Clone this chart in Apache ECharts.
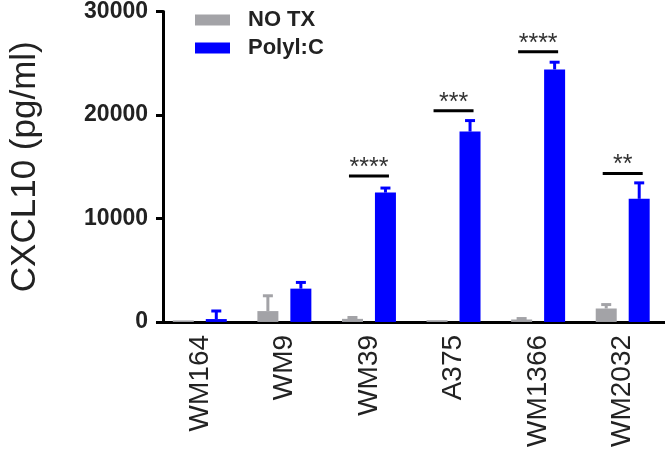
<!DOCTYPE html>
<html>
<head>
<meta charset="utf-8">
<script src="https://cdn.jsdelivr.net/npm/echarts@6/dist/echarts.min.js"></script>
<style>
  html, body { margin: 0; padding: 0; background: #fff; }
  #chart { width: 665px; height: 450px; }
</style>
</head>
<body>
<div id="chart"></div>
<script>
// cell lines
const categories = ['WM164', 'WM9', 'WM39', 'A375', 'WM1366', 'WM2032']
// NO TX: mean and SD (upper bar only)
const noTx = [150, 1050, 300, 170, 240, 1300]
const noTxErr = [0, 1480, 130, 0, 90, 380]
// PolyI:C
const polyIC = [280, 3220, 12500, 18400, 24400, 11900]
const polyICErr = [780, 600, 440, 1060, 700, 1540]
// significance brackets
const sigCats = ['WM39', 'A375', 'WM1366', 'WM2032']
const sigY = [14100, 20400, 26100, 14350]
const sigText = ['****', '***', '****', '**']
const yTicks = [0, 10000, 20000, 30000]

const FONT = 'Liberation Sans, Arial, sans-serif'
const GRAY = '#a3a3a7'
const BLUE = '#0000ff'

// build error bar data for custom series
const errData = (vals, errs) => vals.map((v, i) => [i, v, errs[i]])

const errorBarSeries = (name, vals, errs, color, dx) => ({
  name: name,
  type: 'custom',
  z: 1,
  encode: { x: 0, y: 1 },
  data: errData(vals, errs),
  renderItem (params, api) {
    const err = api.value(2)
    if (!err) return null
    const base = api.coord([api.value(0), api.value(1)])
    const top = api.coord([api.value(0), api.value(1) + err])
    const x = base[0] + dx
    return {
      type: 'group',
      children: [
        { type: 'line', shape: { x1: x, y1: base[1], x2: x, y2: top[1] }, style: { stroke: color, lineWidth: 3 } },
        { type: 'line', shape: { x1: x - 5, y1: top[1], x2: x + 5, y2: top[1] }, style: { stroke: color, lineWidth: 3 } }
      ]
    }
  }
})

const chart = echarts.init(document.getElementById('chart'))
chart.setOption({
  backgroundColor: '#fff',
  animation: false,
  legend: {
    orient: 'vertical',
    left: 190,
    top: 4,
    itemWidth: 35,
    itemHeight: 11,
    itemGap: 6,
    icon: 'rect',
    data: ['NO TX', 'PolyI:C'],
    formatter (n) { return n === 'PolyI:C' ? 'Polyl:C' : n },
    textStyle: { fontFamily: FONT, fontSize: 22, fontWeight: 'bold', color: '#222', padding: [0, 0, 0, 13] }
  },
  grid: { left: 156.5, right: -2, top: 11, bottom: 126.5 },
  xAxis: {
    type: 'category',
    data: categories,
    axisLine: { lineStyle: { color: '#000', width: 3 } },
    axisTick: { alignWithLabel: true, length: 7, lineStyle: { color: '#000', width: 3 } },
    axisLabel: { rotate: 90, margin: 13, fontFamily: FONT, fontSize: 28, color: '#222' }
  },
  yAxis: {
    type: 'value',
    min: 0,
    max: 30000,
    interval: 10000,
    offset: -5.5,
    name: 'CXCL10 (pg/ml)',
    nameLocation: 'middle',
    nameGap: 120,
    nameTextStyle: { fontFamily: FONT, fontSize: 35, color: '#222' },
    splitLine: { show: false },
    axisLine: { show: true, lineStyle: { color: '#000', width: 3 } },
    axisTick: { show: true, length: 7, lineStyle: { color: '#000', width: 3 } },
    axisLabel: {
      margin: 15,
      fontFamily: FONT,
      fontSize: 23,
      fontWeight: 'bold',
      color: '#222',
      formatter (v) { return yTicks.includes(v) ? String(v) : '' }
    }
  },
  series: [
    {
      name: 'NO TX',
      type: 'bar',
      z: 2,
      barWidth: 21,
      barGap: '57%',
      itemStyle: { color: GRAY },
      data: noTx
    },
    {
      name: 'PolyI:C',
      type: 'bar',
      z: 2,
      barWidth: 21,
      itemStyle: { color: BLUE },
      data: polyIC
    },
    errorBarSeries('NO TX', noTx, noTxErr, GRAY, -16.5),
    errorBarSeries('PolyI:C', polyIC, polyICErr, BLUE, 16.5),
    {
      type: 'custom',
      z: 3,
      encode: { x: 0, y: 1 },
      data: sigCats.map((c, i) => [categories.indexOf(c), sigY[i], sigText[i]]),
      renderItem (params, api) {
        const p = api.coord([api.value(0), api.value(1)])
        return {
          type: 'group',
          children: [
            { type: 'line', shape: { x1: p[0] - 20, y1: p[1], x2: p[0] + 20, y2: p[1] }, style: { stroke: '#000', lineWidth: 3 } },
            {
              type: 'text',
              x: p[0],
              y: p[1] - 8,
              style: {
                text: sigText[params.dataIndex],
                fontFamily: FONT,
                fontSize: 25,
                fill: '#333',
                align: 'center',
                verticalAlign: 'middle'
              }
            }
          ]
        }
      }
    }
  ]
})
</script>
</body>
</html>
